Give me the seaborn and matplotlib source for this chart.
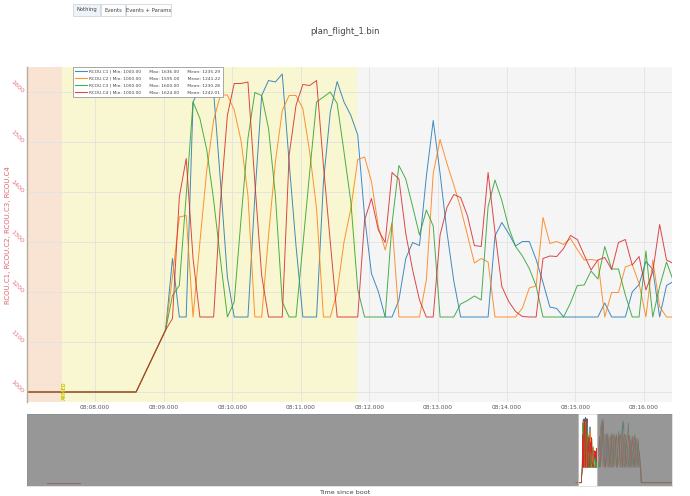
import numpy as np
import pandas as pd
import seaborn as sns
import matplotlib.pyplot as plt
from matplotlib.lines import Line2D
from matplotlib.patches import Rectangle

channels = ["RCOU.C1", "RCOU.C2", "RCOU.C3", "RCOU.C4"]
colors = ["#1f77b4", "#ff7f0e", "#2ca02c", "#d62728"]
ch_min = [1000.00, 1000.00, 1000.00, 1000.00]
ch_max = [1636.00, 1595.00, 1600.00, 1624.00]
ch_mean = [1235.29, 1241.22, 1230.28, 1242.01]

# seconds since boot
idle_value = 1000
t_early_idle = [224.3, 240.6]
t_idle = [486.0, 488.6]
flight_start = 489.03
sample_rate = 10  # Hz

rc1 = [1124, 1267, 1150, 1150, 1580, 1610, 1620, 1600, 1420, 1230,
       1150, 1150, 1150, 1390, 1593, 1623, 1620, 1636, 1460, 1293,
       1150, 1150, 1150, 1420, 1560, 1621, 1580, 1553, 1514, 1351,
       1237, 1201, 1150, 1150, 1184, 1267, 1299, 1293, 1431, 1543,
       1437, 1320, 1222, 1150, 1150, 1150, 1150, 1150, 1312, 1339,
       1317, 1292, 1301, 1301, 1265, 1219, 1170, 1167, 1150, 1150,
       1150, 1150, 1150, 1150, 1178, 1150, 1150, 1150, 1200, 1215,
       1261, 1245, 1150, 1213, 1221]
rc2 = [1124, 1230, 1350, 1353, 1150, 1300, 1444, 1544, 1594, 1594,
       1564, 1502, 1393, 1150, 1150, 1313, 1460, 1563, 1593, 1593,
       1567, 1480, 1367, 1150, 1150, 1200, 1300, 1367, 1465, 1470,
       1421, 1331, 1284, 1338, 1150, 1150, 1150, 1150, 1224, 1437,
       1505, 1457, 1414, 1368, 1313, 1258, 1267, 1260, 1150, 1150,
       1150, 1150, 1168, 1208, 1212, 1349, 1297, 1301, 1295, 1307,
       1285, 1264, 1265, 1263, 1150, 1199, 1199, 1250, 1255, 1217,
       1150, 1264, 1171, 1150, 1150]
rc3 = [1124, 1193, 1213, 1393, 1580, 1547, 1484, 1384, 1264, 1150,
       1180, 1347, 1507, 1599, 1593, 1527, 1393, 1180, 1150, 1150,
       1293, 1440, 1580, 1590, 1600, 1577, 1480, 1380, 1205, 1150,
       1150, 1150, 1150, 1337, 1453, 1426, 1371, 1314, 1364, 1332,
       1150, 1150, 1150, 1176, 1183, 1192, 1184, 1371, 1424, 1383,
       1329, 1291, 1272, 1247, 1212, 1150, 1150, 1150, 1150, 1178,
       1213, 1214, 1242, 1226, 1291, 1246, 1246, 1194, 1150, 1150,
       1282, 1150, 1211, 1260, 1222]
rc4 = [1124, 1147, 1390, 1467, 1267, 1150, 1150, 1150, 1380, 1553,
       1617, 1617, 1620, 1420, 1233, 1150, 1150, 1150, 1473, 1573,
       1615, 1613, 1623, 1453, 1300, 1150, 1150, 1150, 1150, 1344,
       1387, 1324, 1299, 1439, 1426, 1317, 1244, 1184, 1150, 1150,
       1314, 1369, 1395, 1389, 1352, 1293, 1291, 1439, 1320, 1211,
       1181, 1161, 1151, 1150, 1150, 1267, 1272, 1271, 1287, 1313,
       1305, 1274, 1244, 1264, 1269, 1245, 1299, 1305, 1254, 1271,
       1204, 1241, 1335, 1264, 1257]

# rest of the flight, only visible in the range slider (rough read)
post_start = 497.0
post_step = 0.6
post_c1 = [1150, 1180, 1420, 1610, 1250, 1150, 1390, 1480, 1150, 1200,
           1440, 1300, 1150, 1470, 1380, 1150, 1260, 1500, 1150, 1350,
           1590, 1200, 1150, 1430, 1330, 1150, 1460, 1250, 1150, 1400,
           1380, 1150, 1300, 1420, 1160, 1150]
post_c2 = [1150, 1350, 1560, 1300, 1150, 1440, 1470, 1180, 1150, 1420,
           1460, 1150, 1330, 1480, 1200, 1150, 1450, 1390, 1150, 1480,
           1300, 1150, 1410, 1470, 1150, 1280, 1440, 1150, 1350, 1450,
           1200, 1150, 1430, 1300, 1150, 1150]
post_c3 = [1200, 1150, 1300, 1500, 1600, 1180, 1150, 1460, 1420, 1150,
           1250, 1480, 1150, 1390, 1450, 1150, 1300, 1460, 1210, 1150,
           1470, 1600, 1150, 1360, 1450, 1580, 1150, 1420, 1300, 1150,
           1470, 1350, 1150, 1380, 1250, 1150]
post_c4 = [1260, 1450, 1150, 1380, 1620, 1350, 1150, 1290, 1470, 1300,
           1150, 1420, 1460, 1150, 1360, 1470, 1150, 1240, 1480, 1380,
           1150, 1440, 1470, 1150, 1300, 1460, 1380, 1150, 1450, 1330,
           1150, 1440, 1360, 1150, 1300, 1150]
t_disarmed = [518.3, 533.5]

tick_seconds = [488, 489, 490, 491, 492, 493, 494, 495, 496]
tick_labels = ["08:08.000", "08:09.000", "08:10.000", "08:11.000", "08:12.000",
               "08:13.000", "08:14.000", "08:15.000", "08:16.000"]
y_ticks = [1000, 1100, 1200, 1300, 1400, 1500, 1600]
mode_changes = [487.52, 491.82]
mode_colors = ["#f9e4d4", "#f8f7d2"]
armed_time = 487.55
view = (487.01, 496.41)
log_span = (214.4, 533.5)

flight_vals = [rc1, rc2, rc3, rc4]
post_vals = [post_c1, post_c2, post_c3, post_c4]

t_flight = flight_start + np.arange(len(rc1)) / sample_rate
t_post = post_start + post_step * np.arange(len(post_c1))

parts = []
for name, fv, pv in zip(channels, flight_vals, post_vals):
    t = list(t_idle) + list(t_flight) + list(t_post) + list(t_disarmed)
    v = [idle_value] * len(t_idle) + fv + pv + [idle_value] * len(t_disarmed)
    parts.append(pd.DataFrame({"t": t, "value": v, "channel": name, "seg": "flight"}))
    parts.append(pd.DataFrame({"t": t_early_idle, "value": idle_value,
                               "channel": name, "seg": "early"}))
df = pd.concat(parts, ignore_index=True)
palette = dict(zip(channels, colors))

fig = plt.figure(figsize=(6.9, 4.96), dpi=100)
W, H = 690, 496
ax = fig.add_axes([27 / W, 1 - 402 / H, 645 / W, 335 / H])
sl = fig.add_axes([27 / W, 1 - 486 / H, 645 / W, 72 / H])

# main panel
ax.set_facecolor("#f5f5f5")
ax.axvspan(view[0], mode_changes[0], color=mode_colors[0], lw=0, zorder=0)
ax.axvspan(mode_changes[0], mode_changes[1], color=mode_colors[1], lw=0, zorder=0)
sns.lineplot(data=df[df.seg == "flight"], x="t", y="value", hue="channel",
             palette=palette, estimator=None, sort=False, legend=False,
             lw=0.7, alpha=0.85, ax=ax)
ax.set_xlim(*view)
ax.set_ylim(980, 1650)
ax.set_xticks(tick_seconds)
ax.set_xticklabels(tick_labels)
ax.set_yticks(y_ticks)
ax.grid(True, color="#e2e2e2", lw=0.6)
ax.set_axisbelow(True)
ax.tick_params(axis="x", length=0, pad=2, labelsize=4.2, labelcolor="#555555")
ax.tick_params(axis="y", length=0, pad=3, labelsize=4.6, labelcolor="#e8707a")
for lab in ax.get_yticklabels():
    lab.set_rotation(-45)
    lab.set_rotation_mode("anchor")
    lab.set_ha("right")
    lab.set_va("center")
ax.set_xlabel("")
ax.set_ylabel("")
for side in ["top", "right", "bottom"]:
    ax.spines[side].set_visible(False)
ax.spines["left"].set_color("#b5ad9f")
ax.spines["left"].set_linewidth(1.0)

ax.text(armed_time, 984, "ARMED", rotation=90, fontsize=3.3, color="#c8c800",
        ha="center", va="bottom", fontweight="bold")

handles = [Line2D([], [], color=c, lw=0.8, alpha=0.85) for c in colors]
labels = [f"{n} | Min: {a:.2f}      Max: {b:.2f}      Mean: {m:.2f}"
          for n, a, b, m in zip(channels, ch_min, ch_max, ch_mean)]
leg = ax.legend(handles, labels, loc="upper left", bbox_to_anchor=(46 / 645, 1.0),
                fontsize=3.2, frameon=True, fancybox=False, edgecolor="#999999",
                framealpha=1, borderaxespad=0, handlelength=2.6, handletextpad=0.5,
                labelspacing=0.65, borderpad=0.55)
leg.get_frame().set_linewidth(0.6)
for txt in leg.get_texts():
    txt.set_color("#444444")

# range slider
sl.set_facecolor("white")
sns.lineplot(data=df, x="t", y="value", hue="channel", units="seg",
             palette=palette, estimator=None, sort=False, legend=False,
             lw=0.5, ax=sl)
sl.axvspan(log_span[0], view[0], color="#7a7a7a", alpha=0.78, lw=0, zorder=5)
sl.axvspan(view[1], log_span[1], color="#7a7a7a", alpha=0.78, lw=0, zorder=5)
sl.axvline(view[0], color="#bbbbbb", lw=0.8, zorder=6)
sl.axvline(view[1], color="#bbbbbb", lw=0.8, zorder=6)
sl.set_xlim(*log_span)
sl.set_ylim(968, 1668)
sl.set_xticks([])
sl.set_yticks([])
sl.set_xlabel("")
sl.set_ylabel("")
for side in sl.spines.values():
    side.set_color("#dddddd")
    side.set_linewidth(0.6)

# header buttons and titles
buttons = [("Nothing", 73, 100, "#eef3f9"), ("Events", 101, 125, "#fdfdfd"),
           ("Events + Params", 126, 171, "#fdfdfd")]
for label, x0, x1, fc in buttons:
    fig.add_artist(Rectangle((x0 / W, 1 - 16 / H), (x1 - x0) / W, 12 / H,
                             transform=fig.transFigure, facecolor=fc,
                             edgecolor="#cdd6e0", lw=0.6))
    fig.text((x0 + x1) / 2 / W, 1 - 10 / H, label, ha="center", va="center",
             fontsize=3.8, color="#444444")

fig.text(345 / W, 1 - 31 / H, "plan_flight_1.bin", ha="center", va="center",
         fontsize=6, color="#444444")
fig.text(8 / W, 1 - 235 / H, "RCOU.C1, RCOU.C2, RCOU.C3, RCOU.C4", rotation=90,
         ha="center", va="center", fontsize=5, color="#e0606a")
fig.text(345 / W, 1 - 493 / H, "Time since boot", ha="center", va="center",
         fontsize=4.6, color="#444444")

fig.savefig("out.png", dpi=100)
